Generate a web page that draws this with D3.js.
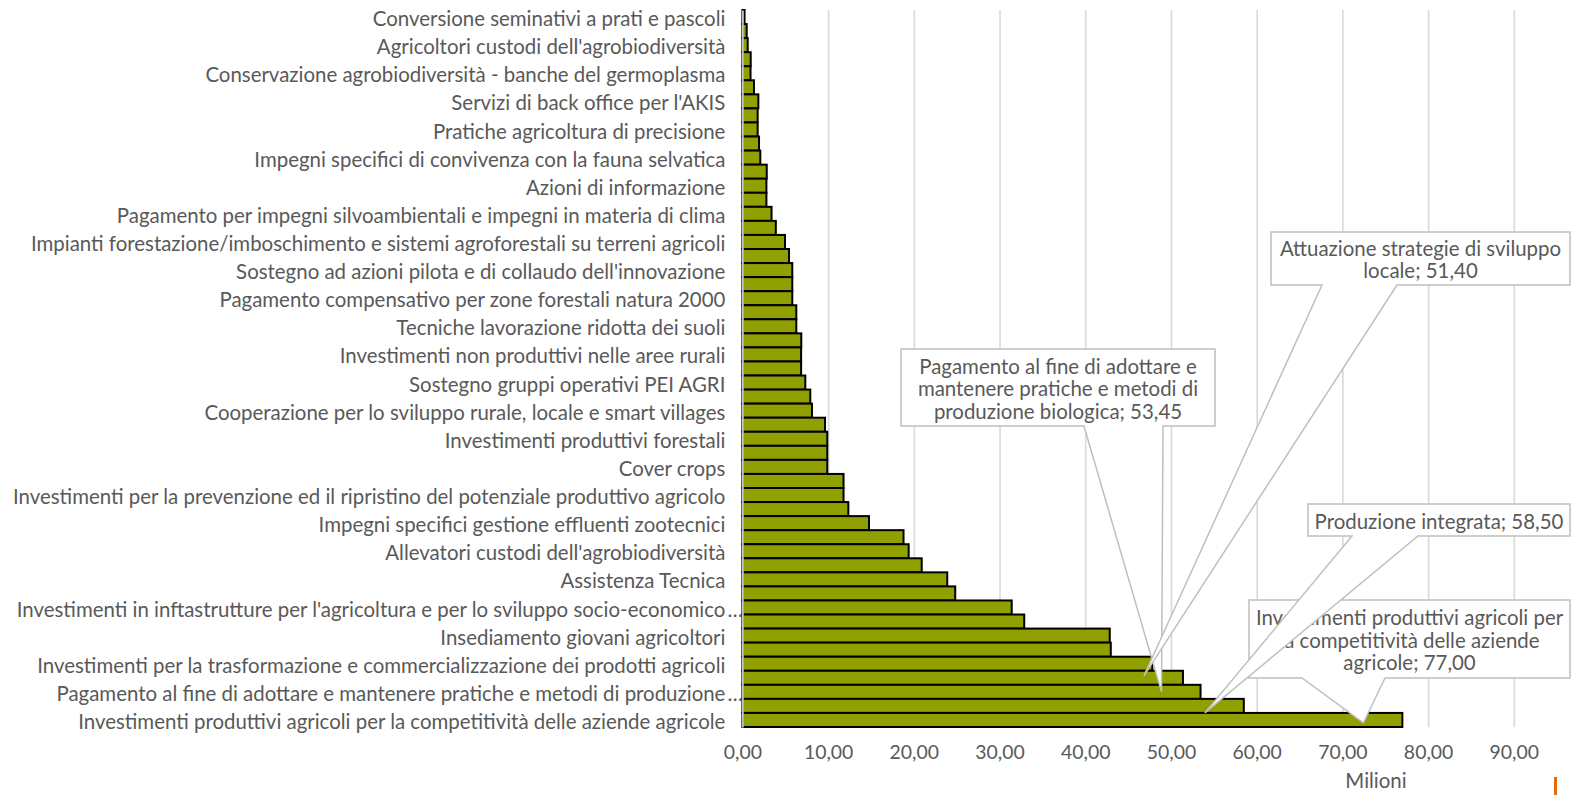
<!DOCTYPE html>
<html>
<head>
<meta charset="utf-8">
<script src="https://cdn.jsdelivr.net/npm/d3@7"></script>
<style>
  body { margin: 0; background: #fff; }
  svg { display: block; font-family: Lato, 'Open Sans', sans-serif; }
</style>
</head>
<body>
<svg></svg>
<script>
const width = 1573;
const height = 795;

/* categories top to bottom; null = label not readable (Excel skips every other one) */
const categories = [
  "Conversione seminativi a prati e pascoli", null,
  "Agricoltori custodi dell'agrobiodiversità", null,
  "Conservazione agrobiodiversità - banche del germoplasma", null,
  "Servizi di back office per l'AKIS", null,
  "Pratiche agricoltura di precisione", null,
  "Impegni specifici di convivenza con la fauna selvatica", null,
  "Azioni di informazione", null,
  "Pagamento per impegni silvoambientali e impegni in materia di clima", null,
  "Impianti forestazione/imboschimento e sistemi agroforestali su terreni agricoli", null,
  "Sostegno ad azioni pilota e di collaudo dell'innovazione", null,
  "Pagamento compensativo per zone forestali natura 2000", null,
  "Tecniche lavorazione ridotta dei suoli", null,
  "Investimenti non produttivi nelle aree rurali", null,
  "Sostegno gruppi operativi PEI AGRI", null,
  "Cooperazione per lo sviluppo rurale, locale e smart villages", null,
  "Investimenti produttivi forestali", null,
  "Cover crops", null,
  "Investimenti per la prevenzione ed il ripristino del potenziale produttivo agricolo", null,
  "Impegni specifici gestione effluenti zootecnici", null,
  "Allevatori custodi dell'agrobiodiversità", null,
  "Assistenza Tecnica", null,
  "Investimenti in inftastrutture per l'agricoltura e per lo sviluppo socio-economico…", null,
  "Insediamento giovani agricoltori", null,
  "Investimenti per la trasformazione e commercializzazione dei prodotti agricoli",
  "Attuazione strategie di sviluppo locale",
  "Pagamento al fine di adottare e mantenere pratiche e metodi di produzione…",
  "Produzione integrata",
  "Investimenti produttivi agricoli per la competitività delle aziende agricole"
];

/* milioni di euro, same order */
const values = [
  0.25, 0.5, 0.62, 0.97, 0.95, 1.35, 1.86, 1.78, 1.78, 1.94,
  2.09, 2.84, 2.8, 2.8, 3.4, 3.9, 4.97, 5.44, 5.82, 5.82,
  5.82, 6.29, 6.29, 6.87, 6.85, 6.85, 7.34, 7.92, 8.12, 9.64,
  9.9, 9.9, 9.9, 11.8, 11.8, 12.36, 14.77, 18.8, 19.4, 20.92,
  23.9, 24.83, 31.42, 32.88, 42.86, 42.98, 47.83, 51.40, 53.45, 58.50,
  77.00
];

const xTicks = [0, 10, 20, 30, 40, 50, 60, 70, 80, 90];

/* data callouts: index of bar and text lines (value appended to last line) */
const callouts = [
  { i: 50, lines: ["Investimenti produttivi agricoli per", "la competitività delle aziende", "agricole; "] },
  { i: 49, lines: ["Produzione integrata; "] },
  { i: 48, lines: ["Pagamento al fine di adottare e", "mantenere pratiche e metodi di", "produzione biologica; "] },
  { i: 47, lines: ["Attuazione strategie di sviluppo", "locale; "] }
];
/* box geometry for each callout, same order */
const boxes = [
  { x0: 1249, x1: 1570, y0: 600, y1: 678, w0: 1302, w1: 1385, dy: 3 },
  { x0: 1308, x1: 1570, y0: 504, y1: 536, w0: 1352, w1: 1418, dy: 7 },
  { x0: 901, x1: 1215, y0: 349, y1: 426, w0: 1084, w1: 1163, dy: 0 },
  { x0: 1271, x1: 1570, y0: 232, y1: 285, w0: 1322, w1: 1397, dy: -2 }
];

const textColor = '#595959';
const it = d3.formatLocale({ decimal: ',', thousands: '.', grouping: [3], currency: ['', '€'] });
const fmt = it.format('.2f');

const svg = d3.select('svg')
  .attr('width', width)
  .attr('height', height);

/* fit font size so the longest label spans like the original */
const probe = svg.append('text').style('font-size', '16px')
  .text(categories[34]);
const fs = 16 * 713 / probe.node().getComputedTextLength();
probe.remove();

const x = d3.scaleLinear()
  .domain([0, 90])
  .range([742.4, 1513.8]);

const y = d3.scaleBand()
  .domain(d3.range(values.length))
  .range([10, 727])
  .padding(0);

/* gridlines */
svg.append('g')
  .attr('class', 'grid')
  .attr('transform', 'translate(0,727)')
  .call(d3.axisBottom(x).tickValues(xTicks).tickSize(-717).tickFormat(''))
  .call(g => g.select('.domain').remove())
  .call(g => g.selectAll('line').attr('stroke', '#d9d9d9').attr('stroke-width', 1.6));

/* bars */
svg.append('g')
  .selectAll('rect')
  .data(values)
  .enter()
  .append('rect')
    .attr('x', x(0))
    .attr('y', (d, i) => y(i))
    .attr('width', d => x(d) - x(0))
    .attr('height', y.bandwidth())
    .attr('fill', '#8fa000')
    .attr('stroke', '#000')
    .attr('stroke-width', 2);

/* x axis labels */
svg.append('g')
  .attr('transform', 'translate(0,727)')
  .call(d3.axisBottom(x).tickValues(xTicks).tickSize(0).tickPadding(18).tickFormat(d => fmt(d)))
  .call(g => g.select('.domain').remove())
  .call(g => g.selectAll('text')
    .attr('fill', textColor)
    .style('font-family', 'Lato, sans-serif')
    .style('font-size', (fs * 0.95) + 'px'));

/* y axis, only every other category is labelled */
const yAxis = svg.append('g')
  .attr('transform', `translate(${x(0)},0)`)
  .call(d3.axisLeft(y)
    .tickValues(d3.range(0, values.length, 2))
    .tickSize(0)
    .tickPadding(17)
    .tickFormat(i => categories[i].replace('…', '')));

yAxis.select('.domain').attr('stroke', '#d9d9d9').attr('stroke-width', 1.6);
yAxis.selectAll('text')
  .attr('fill', textColor)
  .attr('y', 2.5)
  .style('font-family', 'Lato, sans-serif')
  .style('font-size', fs + 'px');

/* truncated labels: ellipsis hangs past the label edge as in Excel */
yAxis.selectAll('.tick')
  .filter(i => categories[i].endsWith('…'))
  .append('text')
    .attr('x', -15)
    .attr('y', 2.5)
    .attr('dy', '0.32em')
    .attr('text-anchor', 'start')
    .attr('fill', textColor)
    .style('font-family', 'Lato, sans-serif')
    .style('font-size', fs + 'px')
    .text('…');

/* axis title */
svg.append('text')
  .attr('x', 1376)
  .attr('y', 781)
  .attr('dy', '0.35em')
  .attr('text-anchor', 'middle')
  .attr('fill', textColor)
  .style('font-size', fs + 'px')
  .text('Milioni');

/* callouts */
const lineH = 22.5;
callouts.forEach((c, k) => {
  const b = boxes[k];
  const tx = x(values[c.i]) - 39;
  const ty = y(c.i) + y.bandwidth() / 2 + b.dy;
  const g = svg.append('g');

  g.append('path')
    .attr('d', `M${b.x0},${b.y0}H${b.x1}V${b.y1}H${b.w1}L${tx},${ty}L${b.w0},${b.y1}H${b.x0}Z`)
    .attr('fill', '#fff')
    .attr('stroke', '#bfbfbf')
    .attr('stroke-width', 1.5);

  const lines = c.lines.slice();
  lines[lines.length - 1] += fmt(values[c.i]);
  const cy = (b.y0 + b.y1) / 2 - (lines.length - 1) * lineH / 2 + 1.5;
  g.append('text')
    .attr('text-anchor', 'middle')
    .attr('fill', textColor)
    .style('font-size', fs + 'px')
    .selectAll('tspan')
    .data(lines)
    .enter()
    .append('tspan')
      .attr('x', (b.x0 + b.x1) / 2)
      .attr('y', (d, j) => cy + j * lineH)
      .attr('dy', '0.35em')
      .text(d => d);
});

/* slide decoration at the bottom right */
svg.append('rect')
  .attr('x', 1554)
  .attr('y', 777)
  .attr('width', 3)
  .attr('height', 18)
  .attr('fill', '#e36c0a');
</script>
</body>
</html>
